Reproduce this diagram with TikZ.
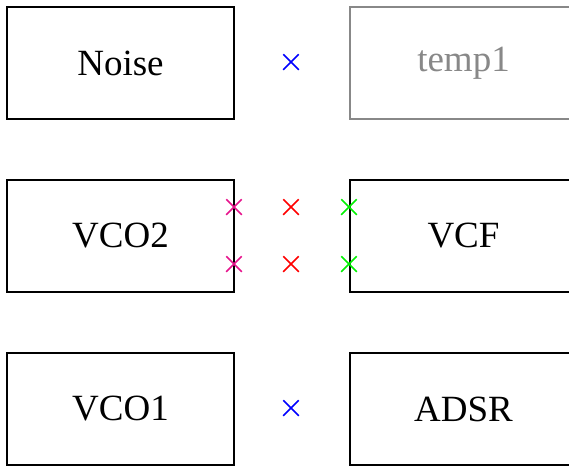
\documentclass[tikz,border=0pt]{standalone}
\usepackage{fontspec}
\setmainfont{Liberation Serif}
\usetikzlibrary{shapes.misc}
\definecolor{mygray}{RGB}{136,136,136}
\definecolor{mypink}{RGB}{230,20,140}
\definecolor{mygreen}{RGB}{0,240,0}
\definecolor{myblue}{RGB}{0,0,255}
\definecolor{myred}{RGB}{255,0,0}
\tikzset{
  modbox/.style={draw=black, line width=1.4pt, rectangle, minimum width=227pt, minimum height=112pt, inner sep=0pt, font=\fontsize{37}{40}\selectfont},
  ghostbox/.style={modbox, draw=mygray, text=mygray},
  xmark/.style={cross out, draw=#1, line width=1.5pt, minimum size=14pt, inner sep=0pt}
}
\begin{document}
\begin{tikzpicture}[x=1pt,y=-1pt]
\useasboundingbox (0,0) rectangle (569,467);
\clip (0,0) rectangle (569,467);
\node[modbox] (noise) at (120.5,63) {Noise};
\node[ghostbox] (temp1) at (463.5,63) {temp1};
\node[modbox] (vco2) at (120.5,236) {VCO2};
\node[modbox] (vcf) at (463.5,236) {VCF};
\node[modbox] (vco1) at (120.5,409) {VCO1};
\node[modbox] (adsr) at (463.5,409) {ADSR};
\node[xmark=myblue] (x1) at (291,62) {};
\node[xmark=myblue] (x2) at (291,408) {};
\node[xmark=myred] (x3) at (291,207) {};
\node[xmark=myred] (x4) at (291,264) {};
\node[xmark=mypink] (x5) at (234,207) {};
\node[xmark=mypink] (x6) at (234,264) {};
\node[xmark=mygreen] (x7) at (349,207) {};
\node[xmark=mygreen] (x8) at (349,264) {};
\end{tikzpicture}
\end{document}
